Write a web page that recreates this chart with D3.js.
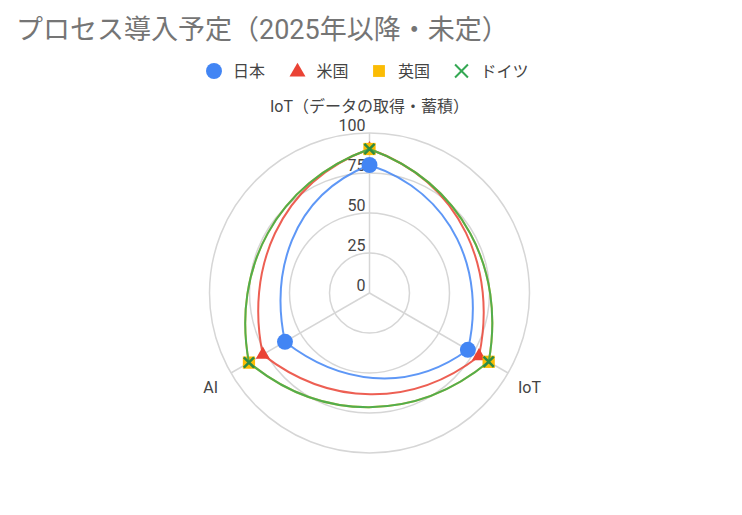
<!DOCTYPE html>
<html>
<head>
<meta charset="utf-8">
<script src="https://cdn.jsdelivr.net/npm/d3@7"></script>
<style>
  html, body { margin: 0; padding: 0; background: #fff; }
  svg { display: block; }
  text { font-family: Roboto, "Noto Sans CJK JP", sans-serif; }
</style>
</head>
<body>
<svg id="chart" width="742" height="515"></svg>
<script>
// ---- data ----
const titleText = "プロセス導入予定（2025年以降・未定）";
const categories = ["IoT（データの取得・蓄積）", "IoT", "AI"];
const seriesNames = ["日本", "米国", "英国", "ドイツ"];
const japanValues = [80, 71, 61];
const usValues = [90, 79, 77];
const ukValues = [90, 86, 87];
const germanyValues = [90, 86, 87];
const tickValues = [0, 25, 50, 75, 100];
const seriesColors = ["#4285F4", "#EA4335", "#FBBC04", "#34A853"];

const seriesValues = [japanValues, usValues, ukValues, germanyValues];

// ---- layout ----
const svg = d3.select("#chart");
const cx = 369.5, cy = 293;
const r = d3.scaleLinear().domain([0, 100]).range([0, 160]);
const angle = d3.scaleLinear().domain([0, categories.length]).range([0, 2 * Math.PI]);

// title
svg.append("text")
  .attr("x", 16).attr("y", 39)
  .attr("font-size", 27).attr("fill", "#757575")
  .text(titleText);

const g = svg.append("g").attr("transform", `translate(${cx},${cy})`);

// grid rings
g.selectAll("circle.ring")
  .data(tickValues.filter(v => v > 0))
  .join("circle")
  .attr("class", "ring")
  .attr("r", d => r(d))
  .attr("fill", "none")
  .attr("stroke", "#d6d6d6")
  .attr("stroke-width", 1.5);

// spokes
g.selectAll("line.spoke")
  .data(categories)
  .join("line")
  .attr("class", "spoke")
  .attr("x1", 0).attr("y1", 0)
  .attr("x2", (d, i) => d3.pointRadial(angle(i), r(100))[0])
  .attr("y2", (d, i) => d3.pointRadial(angle(i), r(100))[1])
  .attr("stroke", "#d6d6d6")
  .attr("stroke-width", 1.5);

// tick labels
g.selectAll("text.tick")
  .data(tickValues)
  .join("text")
  .attr("class", "tick")
  .attr("x", -4)
  .attr("y", d => -r(d) - 2.5)
  .attr("text-anchor", "end")
  .attr("font-size", 16)
  .attr("fill", "#444")
  .text(d => d);

// category labels
const labelPos = [
  { dx: 0, dy: -181, anchor: "middle" },
  { dx: 148.5, dy: 100, anchor: "start" },
  { dx: -151.5, dy: 100, anchor: "end" }
];
g.selectAll("text.cat")
  .data(categories)
  .join("text")
  .attr("class", "cat")
  .attr("x", (d, i) => labelPos[i].dx)
  .attr("y", (d, i) => labelPos[i].dy)
  .attr("text-anchor", (d, i) => labelPos[i].anchor)
  .attr("font-size", 16)
  .attr("fill", "#444")
  .text(d => d);

// smooth line computed in (angle, radius) space, then mapped to the plane
function curvePath(values) {
  const n = values.length;
  const step = 2 * Math.PI / n;
  const pol = values.map((v, i) => ({ a: angle(i), rr: r(v) }));
  const P = (a, rr) => d3.pointRadial(a, rr);
  const p = d3.path();
  const start = P(pol[0].a, pol[0].rr);
  p.moveTo(start[0], start[1]);
  for (let i = 0; i < n; i++) {
    const prev = pol[(i - 1 + n) % n], cur = pol[i], next = pol[(i + 1) % n], next2 = pol[(i + 2) % n];
    const a0 = cur.a, a1 = cur.a + step;
    // handles = (next - prev) / 6 in data space
    const c1 = P(a0 + (2 * step) / 6, cur.rr + (next.rr - prev.rr) / 6);
    const c2 = P(a1 - (2 * step) / 6, next.rr - (next2.rr - cur.rr) / 6);
    const e = P(a1, next.rr);
    p.bezierCurveTo(c1[0], c1[1], c2[0], c2[1], e[0], e[1]);
  }
  p.closePath();
  return p.toString();
}

const symbolTypes = [d3.symbolCircle, d3.symbolTriangle, d3.symbolSquare, d3.symbolTimes];
const symbolSizes = [200, 85, 150, 70];

seriesValues.forEach((vals, s) => {
  const sg = g.append("g");
  sg.append("path")
    .attr("d", curvePath(vals))
    .attr("fill", "none")
    .attr("stroke", seriesColors[s])
    .attr("stroke-width", 2)
    .attr("stroke-opacity", 0.85);
  sg.selectAll("path.mk")
    .data(vals)
    .join("path")
    .attr("class", "mk")
    .attr("transform", (d, i) => {
      const pt = d3.pointRadial(angle(i), r(d));
      return `translate(${pt[0]},${pt[1]})`;
    })
    .attr("d", d3.symbol().type(symbolTypes[s]).size(symbolSizes[s]))
    .attr("fill", s === 3 ? "none" : seriesColors[s])
    .attr("stroke", s === 3 ? "#2e8b43" : "none")
    .attr("stroke-width", s === 3 ? 2.5 : 0);
});

// legend
const legendX = [214, 297.5, 379, 461.5];
const legendY = 71;
const legendSizes = [200, 110, 140, 110];
const lg = svg.append("g");
seriesNames.forEach((name, s) => {
  lg.append("path")
    .attr("transform", `translate(${legendX[s]},${legendY + (s === 1 ? 1 : 0)})`)
    .attr("d", d3.symbol().type(symbolTypes[s]).size(legendSizes[s]))
    .attr("fill", s === 3 ? "none" : seriesColors[s])
    .attr("stroke", s === 3 ? seriesColors[s] : "none")
    .attr("stroke-width", s === 3 ? 2 : 0);
  lg.append("text")
    .attr("x", legendX[s] + 19)
    .attr("y", legendY + 6)
    .attr("font-size", 16)
    .attr("fill", "#444")
    .text(name);
});
</script>
</body>
</html>
